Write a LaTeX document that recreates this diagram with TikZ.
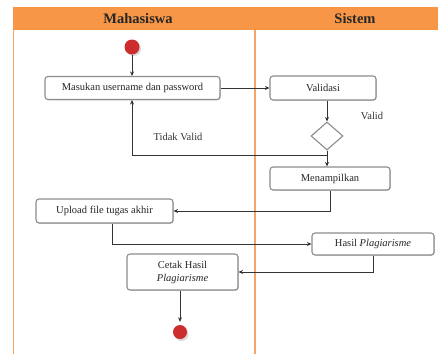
\documentclass[tikz,border=0pt]{standalone}
\usepackage{fontspec}
\setmainfont{Liberation Serif}
\usetikzlibrary{arrows.meta,shapes.geometric,shadows}
\definecolor{hdr}{RGB}{247,150,70}
\definecolor{lane}{RGB}{246,165,105}
\definecolor{boxline}{RGB}{140,140,140}
\definecolor{startred}{RGB}{205,45,45}
\tikzset{
  actbox/.style={draw=boxline, line width=1.1pt, rounded corners=3pt, fill=white,
    drop shadow={shadow xshift=0.8pt, shadow yshift=-0.8pt, fill=black!18, opacity=1},
    inner sep=0pt, align=center, text=black!85, font=\fontsize{10.5}{13}\selectfont},
  dec/.style={draw=boxline, line width=1.1pt, diamond, fill=white, minimum width=32pt, minimum height=28pt, inner sep=0pt},
  startdot/.style={circle, fill=startred, minimum size=15pt, inner sep=0pt},
  arr/.style={draw=black!80, line width=0.8pt, -{Stealth[length=4.5pt,width=4pt]}},
  lbl/.style={text=black!80, font=\fontsize{10.5}{13}\selectfont},
  hdrtxt/.style={text=black!85, font=\fontsize{14.5}{16}\selectfont\bfseries},
}
\begin{document}
\begin{tikzpicture}[x=1pt,y=-1pt]
\useasboundingbox (0,0) rectangle (438,354);
% lanes
\fill[hdr] (13,7) rectangle (438,30);
\draw[draw=lane, line width=1.2pt] (13.5,30) -- (13.5,354);
\draw[draw=lane, line width=1.2pt] (255,30) -- (255,354);
\node[hdrtxt] (h1) at (138,18.5) {Mahasiswa};
\node[hdrtxt] (h2) at (355,18.5) {Sistem};
% start
\fill[black!15] (133.5,48.5) circle (7.5);
\node[startdot] (st) at (132,47) {};
% boxes
\node[actbox, minimum width=175pt, minimum height=23pt] (b1) at (132.5,88) {Masukan username dan password};
\node[actbox, minimum width=106pt, minimum height=24pt] (b2) at (323,88) {Validasi};
\node[dec] (d) at (327,136) {};
\node[actbox, minimum width=120pt, minimum height=23pt] (b3) at (330,178.5) {Menampilkan};
\node[actbox, minimum width=137pt, minimum height=24pt] (b4) at (104.5,211) {Upload file tugas akhir};
\node[actbox, minimum width=122pt, minimum height=22pt] (b5) at (373,244) {Hasil \textit{Plagiarisme}};
\node[actbox, minimum width=111pt, minimum height=36pt] (b6) at (182.5,272) {Cetak Hasil\\\textit{Plagiarisme}};
% end
\fill[black!15] (181.5,334) circle (7);
\node[startdot, minimum size=14pt] (en) at (180,332) {};
% labels
\node[lbl] (lv) at (372,116) {Valid};
\node[lbl] (ltv) at (178,137) {Tidak Valid};
% connectors
\draw[arr] (st) -- (st |- b1.north);
\draw[arr] (b1.east) -- (b2.west);
\draw[arr] (b2.south -| d.north) -- (d.north);
\draw[arr] (d.south) -- (d.south |- b3.north);
\draw[arr] (d.south) |- ([yshift=-55pt]st |- b1.south) -- (st |- b1.south);
\draw[arr] (b3.south) |- (b4.east);
\draw[arr] ([xshift=7.5pt]b4.south) |- (b5.west);
\draw[arr] (b5.south) |- (b6.east);
\draw[arr] (b6.south -| en) -- ([yshift=3pt]en.north);
\end{tikzpicture}
\end{document}
